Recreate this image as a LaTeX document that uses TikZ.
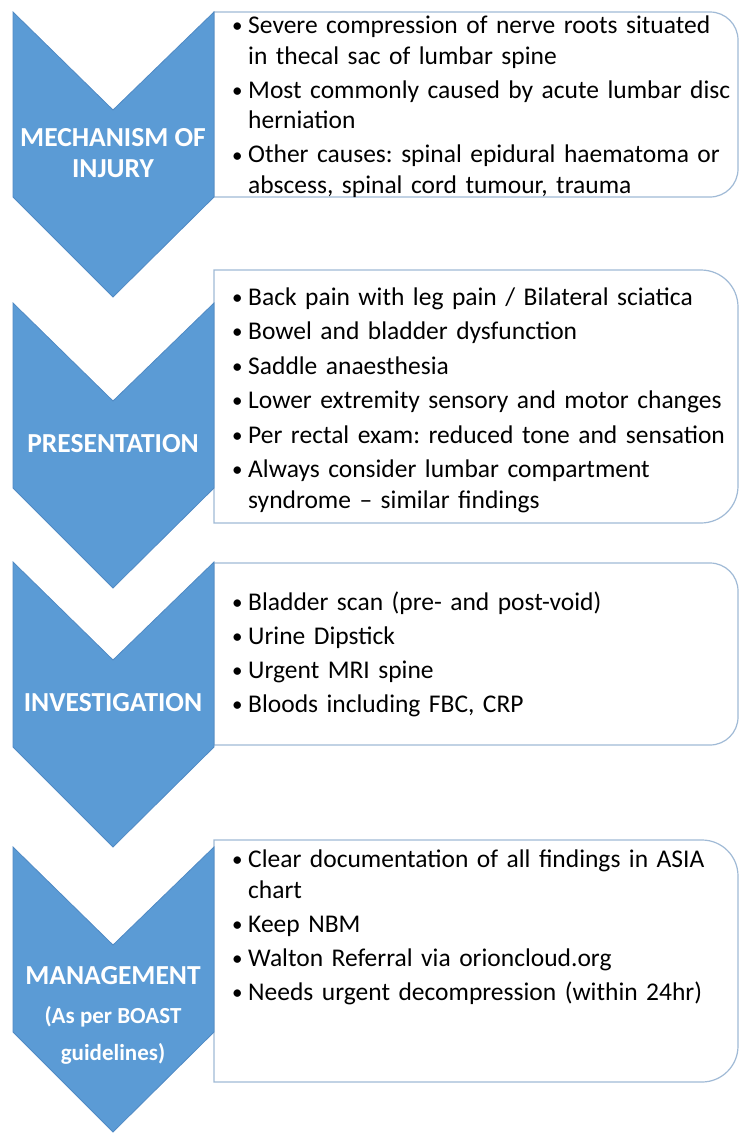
\documentclass[tikz,border=0pt]{standalone}
\usepackage{fontspec}
\setmainfont{Carlito}
\usepackage{xcolor}
\definecolor{cesblue}{RGB}{91,155,213}
\definecolor{cesedge}{RGB}{80,138,196}
\definecolor{cesline}{RGB}{160,186,214}
\newcommand{\bitem}{\hangindent=22pt\hangafter=1%
  \makebox[22pt][l]{\hspace{6pt}\raisebox{1pt}{\fontsize{21}{21}\selectfont\textbullet}}}
\frenchspacing
\hyphenpenalty=10000

\begin{document}
\begin{tikzpicture}[x=1pt,y=-1pt,
  cesstep/.style={fill=cesblue,draw=cesedge,line width=0.8pt,line join=miter},
  cestitle/.style={text=white,font=\bfseries\fontsize{27.5}{31}\selectfont,align=center,inner sep=0pt},
  cesframe/.style={draw=cesline,line width=1.2pt,fill=white},
  ceslist/.style={anchor=base west,inner sep=0pt,text width=520pt,align=left,
    font=\fontsize{25.5}{31}\selectfont}
]
  \useasboundingbox[fill=white] (0,0) rectangle (750,1143);
  % Text frames (square left, rounded right)
  \foreach \t/\b/\r in {12/197/28, 270/523/37, 563/745/28, 840/1082/36}
    \draw[cesframe] (214,\t) -- (738-\r,\t)
      .. controls (738-0.448*\r,\t) and (738,\t+0.448*\r) .. (738,\t+\r)
      -- (738,\b-\r)
      .. controls (738,\b-0.448*\r) and (738-0.448*\r,\b) .. (738-\r,\b)
      -- (214,\b) -- cycle;
  % Chevrons
  \foreach \t in {12,303,562,847}
    \draw[cesstep] (13,\t) -- (113,\t+98) -- (214,\t) -- (214,\t+185)
      -- (113,\t+285) -- (13,\t+185) -- cycle;

  % Step 1: Mechanism of injury
  \node[cestitle] (mech) at (113,153) {MECHANISM OF\\INJURY};
  \node[ceslist] (mechtxt) at (226,33) {\setlength{\parskip}{3pt}%
    \bitem Severe compression of nerve roots situated\newline in thecal sac of lumbar spine\par
    \bitem Most commonly caused by acute lumbar disc\newline herniation\par
    \bitem Other causes: spinal epidural haematoma or\newline abscess, spinal cord tumour, trauma\par};
  % Step 2: Presentation
  \node[cestitle] (pres) at (113,444) {PRESENTATION};
  \node[ceslist] (prestxt) at (226,305) {\setlength{\parskip}{3.5pt}%
    \bitem Back pain with leg pain / Bilateral sciatica\par
    \bitem Bowel and bladder dysfunction\par
    \bitem Saddle anaesthesia\par
    \bitem Lower extremity sensory and motor changes\par
    \bitem Per rectal exam: reduced tone and sensation\par
    \bitem Always consider lumbar compartment\newline syndrome -- similar findings\par};
  % Step 3: Investigation
  \node[cestitle] (inv) at (113,703) {INVESTIGATION};
  \node[ceslist] (invtxt) at (226,610) {\setlength{\parskip}{3pt}%
    \bitem Bladder scan (pre- and post-void)\par
    \bitem Urine Dipstick\par
    \bitem Urgent MRI spine\par
    \bitem Bloods including FBC, CRP\par};
  % Step 4: Management
  \node[cestitle] (mgmt) at (113,1015) {MANAGEMENT\\[8pt]
    {\fontsize{23}{28}\selectfont (As per BOAST}\\[6pt]
    {\fontsize{23}{28}\selectfont guidelines)}};
  \node[ceslist] (mgmttxt) at (226,867) {\setlength{\parskip}{3pt}%
    \bitem Clear documentation of all findings in ASIA\newline chart\par
    \bitem Keep NBM\par
    \bitem Walton Referral via orioncloud.org\par
    \bitem Needs urgent decompression (within 24hr)\par};
\end{tikzpicture}
\end{document}
